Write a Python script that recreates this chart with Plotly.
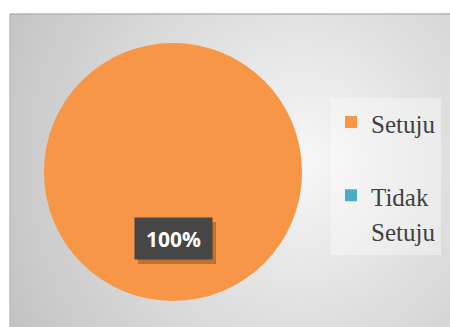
import base64
import math
import struct
import zlib

import plotly.graph_objects as go

# ---- data ----
categories = ["Setuju", "Tidak Setuju"]
legend_lines = [["Setuju", " "], ["Tidak", "Setuju"]]
values = [100, 0]
slice_label = "100%"
colors = ["#f79646", "#4bacc6"]

W_FIG, H_FIG = 450, 327

legend_labels = [
    "<br>".join("<span style='font-size:25px'>" + ln + "</span>" for ln in lines)
    for lines in legend_lines
]


# ---- background gradient image (style only) ----
def make_png(w, h, fx0, fy0, fw, fh):
    raw = b""
    cx, cy, rx, ry = 300.0, 160.0, 300.0, 320.0
    for j in range(h):
        row = b"\x00"
        py = fy0 + (j + 0.5) * fh / h
        for i in range(w):
            px = fx0 + (i + 0.5) * fw / w
            r = math.sqrt(((px - cx) / rx) ** 2 + ((py - cy) / ry) ** 2)
            v = int(max(0, min(255, 248 - 48 * r)))
            row += bytes([v, v, v])
        raw += row

    def chunk(tag, data):
        c = struct.pack(">I", len(data)) + tag + data
        return c + struct.pack(">I", zlib.crc32(tag + data) & 0xFFFFFFFF)

    png = b"\x89PNG\r\n\x1a\n"
    png += chunk(b"IHDR", struct.pack(">IIBBBBB", w, h, 8, 2, 0, 0, 0))
    png += chunk(b"IDAT", zlib.compress(raw, 9))
    png += chunk(b"IEND", b"")
    return "data:image/png;base64," + base64.b64encode(png).decode()


fx0, fy0 = 10, 14
fw, fh = W_FIG - fx0, H_FIG - fy0
bg_src = make_png(88, 63, fx0, fy0, fw, fh)

fig = go.Figure()
fig.add_trace(
    go.Pie(
        labels=legend_labels,
        values=values,
        customdata=categories,
        sort=False,
        direction="clockwise",
        rotation=0,
        marker=dict(colors=colors, line=dict(width=0)),
        textinfo="none",
        hovertemplate="%{customdata}: %{percent}<extra></extra>",
        domain=dict(x=[44 / W_FIG, 302 / W_FIG], y=[1 - 301 / H_FIG, 1 - 43 / H_FIG]),
        showlegend=True,
    )
)

# label box (with a soft shadow drawn as a shape)
bx0, bx1, by0, by1 = 135, 212, 218, 259
fig.add_annotation(
    x=(bx0 + bx1) / 2 / W_FIG, y=1 - (by0 + by1) / 2 / H_FIG,
    xref="paper", yref="paper", xanchor="center", yanchor="middle",
    text="<b>" + slice_label + "</b>", showarrow=False,
    font=dict(family="Open Sans", size=21, color="#ffffff"),
    bgcolor="#464646", width=bx1 - bx0 - 16, height=by1 - by0 - 16, borderpad=8,
)

fig.update_layout(
    width=W_FIG,
    height=H_FIG,
    margin=dict(l=0, r=0, t=0, b=0),
    paper_bgcolor="#ffffff",
    plot_bgcolor="#ffffff",
    images=[
        dict(
            source=bg_src, xref="paper", yref="paper",
            x=fx0 / W_FIG, y=1 - fy0 / H_FIG,
            sizex=fw / W_FIG, sizey=fh / H_FIG,
            xanchor="left", yanchor="top", sizing="stretch", layer="below",
        )
    ],
    shapes=[
        dict(type="line", xref="paper", yref="paper",
             x0=fx0 / W_FIG, x1=1, y0=1 - fy0 / H_FIG, y1=1 - fy0 / H_FIG,
             line=dict(color="#b5b5b5", width=1.5)),
        dict(type="line", xref="paper", yref="paper",
             x0=fx0 / W_FIG, x1=fx0 / W_FIG, y0=0, y1=1 - fy0 / H_FIG,
             line=dict(color="#bdbdbd", width=1.5)),
        dict(type="rect", xref="paper", yref="paper", layer="above",
             x0=(bx0 + 3) / W_FIG, x1=(bx1 + 4) / W_FIG,
             y0=1 - (by1 + 5) / H_FIG, y1=1 - (by0 + 4) / H_FIG,
             fillcolor="rgba(90,45,0,0.35)", line=dict(width=0)),
    ],
    legend=dict(
        x=331 / W_FIG, y=1 - 98 / H_FIG, xanchor="left", yanchor="top",
        bgcolor="rgba(255,255,255,0.35)", borderwidth=0,
        font=dict(family="Liberation Serif", size=27, color="#404040"),
        valign="top",
        tracegroupgap=0,
    ),
)

fig.write_html("out.html")
